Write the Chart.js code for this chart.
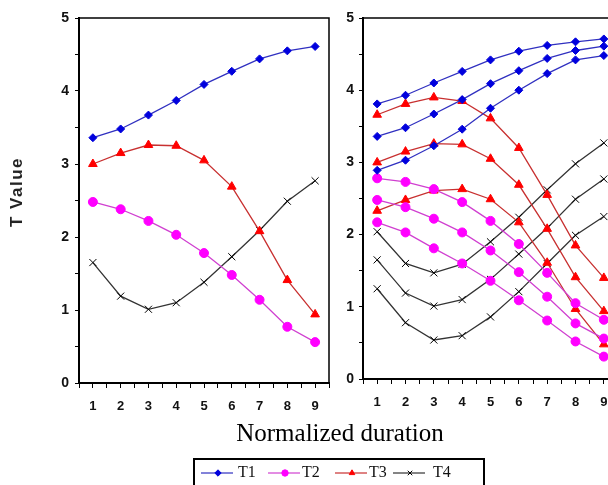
<!DOCTYPE html>
<html>
<head>
<meta charset="utf-8">
<script src="https://cdn.jsdelivr.net/npm/chart.js@4"></script>
<style>
  html, body { margin: 0; padding: 0; background: #fff; }
  body { width: 608px; height: 485px; overflow: hidden; position: relative; }
  canvas { position: absolute; top: 0; }
  #leftChart { left: 0; }
  #rightChart { left: 340px; }
  .ytitle {
    position: absolute; left: 17px; top: 192px;
    transform: translate(-50%, -50%) rotate(-90deg);
    font: bold 17px "Liberation Sans", Arial, sans-serif;
    letter-spacing: 1.5px; white-space: nowrap; color: #222;
  }
  .xtitle {
    position: absolute; left: 340px; top: 433px;
    transform: translate(-50%, -50%);
    font: 25px "Liberation Serif", "Times New Roman", serif;
    white-space: nowrap; color: #000;
  }
  .legend {
    position: absolute; left: 193px; top: 458px; width: 292px; height: 40px;
    border: 2px solid #000; box-sizing: border-box;
  }
  .legend canvas { position: absolute; top: 5px; }
  .legend span { position: absolute; top: 3px; font: 16px "Liberation Serif", serif; color: #111; }
</style>
</head>
<body>
<canvas id="leftChart" width="340" height="420"></canvas>
<canvas id="rightChart" width="290" height="420"></canvas>
<div class="ytitle">T Value</div>
<div class="xtitle">Normalized duration</div>
<div class="legend" id="legend"></div>
<script>
const durations = [1, 2, 3, 4, 5, 6, 7, 8, 9];
const yTicks = [0, 1, 2, 3, 4, 5];

// left panel
const t1 = [3.36, 3.48, 3.67, 3.87, 4.09, 4.27, 4.44, 4.55, 4.61];
const t2 = [2.48, 2.38, 2.22, 2.03, 1.78, 1.48, 1.14, 0.77, 0.56];
const t3 = [3.00, 3.15, 3.26, 3.25, 3.05, 2.69, 2.08, 1.41, 0.94];
const t4 = [1.65, 1.19, 1.01, 1.10, 1.38, 1.73, 2.09, 2.49, 2.77];

// right panel: upper / lower curves around each left series
const t1Upper = [3.81, 3.93, 4.10, 4.26, 4.42, 4.54, 4.62, 4.67, 4.71];
const t1Lower = [2.89, 3.03, 3.23, 3.46, 3.75, 4.00, 4.23, 4.42, 4.48];
const t2Upper = [2.78, 2.73, 2.63, 2.45, 2.19, 1.87, 1.47, 1.05, 0.82];
const t2Lower = [2.17, 2.03, 1.81, 1.60, 1.36, 1.09, 0.81, 0.52, 0.31];
const t3Upper = [3.66, 3.81, 3.90, 3.85, 3.61, 3.20, 2.55, 1.85, 1.40];
const t3Lower = [2.33, 2.48, 2.61, 2.63, 2.49, 2.17, 1.61, 0.97, 0.48];
const t4Upper = [2.04, 1.60, 1.47, 1.59, 1.90, 2.24, 2.62, 2.98, 3.27];
const t4Lower = [1.25, 0.78, 0.54, 0.60, 0.86, 1.21, 1.60, 1.99, 2.25];

const seriesNames = ["T1", "T2", "T3", "T4"];
const styles = {
  T1: { line: "#3030c0", fill: "#0000dd", point: "rectRot", r: 4 },
  T2: { line: "#d040d0", fill: "#ff00ff", point: "circle", r: 4.5 },
  T3: { line: "#c83030", fill: "#ff0000", point: "triangle", r: 5 },
  T4: { line: "#333333", fill: "#000000", point: "crossRot", r: 5 },
};

function ds(name, values) {
  const s = styles[name];
  return {
    label: name,
    data: values.map((v, i) => ({ x: durations[i], y: v })),
    borderColor: s.line,
    borderWidth: 1.3,
    pointStyle: s.point,
    pointRadius: s.r,
    pointBackgroundColor: s.fill,
    pointBorderColor: s.point === "crossRot" ? "#000" : s.fill,
    pointBorderWidth: 1,
    tension: 0,
    fill: false,
  };
}

// top / right frame lines around the plot
const framePlugin = {
  id: "frame",
  afterDraw(chart, args, opts) {
    const { ctx, chartArea: a } = chart;
    ctx.save();
    ctx.strokeStyle = "#000";
    ctx.lineWidth = 1.5;
    ctx.beginPath();
    ctx.moveTo(a.left, a.top);
    ctx.lineTo(a.right, a.top);
    if (opts.right) ctx.lineTo(a.right, a.bottom);
    ctx.stroke();
    ctx.restore();
  },
};

function makeChart(id, datasets, cfg) {
  return new Chart(document.getElementById(id), {
    type: "line",
    data: { datasets },
    plugins: [framePlugin],
    options: {
      responsive: false,
      animation: false,
      layout: { padding: { top: 18, right: cfg.padRight, left: 0, bottom: 0 } },
      plugins: {
        legend: { display: false },
        tooltip: { enabled: false },
        frame: { right: cfg.frameRight },
      },
      scales: {
        x: {
          type: "linear",
          min: 0.5,
          max: 9.5,
          afterFit: s => { s.height = cfg.xHeight; },
          afterBuildTicks: s => {
            const t = [];
            for (let v = 0.5; v <= 9.5; v += 0.5) t.push({ value: v });
            s.ticks = t;
          },
          ticks: {
            autoSkip: false,
            maxRotation: 0,
            padding: cfg.xPad,
            color: "#111",
            font: { family: "Liberation Sans", size: 13, weight: "bold" },
            callback: v => (durations.includes(v) ? String(v) : ""),
          },
          grid: { drawOnChartArea: false, drawTicks: true, tickLength: 5, color: "#000", lineWidth: 1 },
          border: { display: true, color: "#000", width: 2 },
        },
        y: {
          min: 0,
          max: 5,
          afterFit: s => { s.width = cfg.yWidth; },
          afterBuildTicks: s => {
            const t = [];
            for (let v = 0; v <= 5; v += 0.5) t.push({ value: v });
            s.ticks = t;
          },
          ticks: {
            padding: cfg.yPad,
            color: "#111",
            font: { family: "Liberation Sans", size: 14, weight: "bold" },
            callback: v => (yTicks.includes(v) ? String(v) : ""),
          },
          grid: { drawOnChartArea: false, drawTicks: true, tickLength: 4, color: "#000", lineWidth: 1 },
          border: { display: true, color: "#000", width: 2 },
        },
      },
    },
  });
}

makeChart("leftChart", [ds("T1", t1), ds("T2", t2), ds("T3", t3), ds("T4", t4)],
  { padRight: 3, xHeight: 37, yWidth: 79, xPad: 11, yPad: 6, frameRight: true });

makeChart("rightChart", [
  ds("T1", t1Upper), ds("T1", t1), ds("T1", t1Lower),
  ds("T2", t2Upper), ds("T2", t2), ds("T2", t2Lower),
  ds("T3", t3Upper), ds("T3", t3), ds("T3", t3Lower),
  ds("T4", t4Upper), ds("T4", t4), ds("T4", t4Lower),
], { padRight: 12, xHeight: 41, yWidth: 23, xPad: 11, yPad: 5, frameRight: false });

// legend row under the plots: sample line + marker, then the name
const legend = document.getElementById("legend");
const lineX = [6, 73, 140, 198];
const textX = [43, 107, 174, 238];
seriesNames.forEach((name, i) => {
  const s = styles[name];
  const c = document.createElement("canvas");
  c.width = 32; c.height = 16;
  c.style.left = lineX[i] + "px";
  const g = c.getContext("2d");
  g.strokeStyle = s.line; g.lineWidth = 1.2;
  g.beginPath(); g.moveTo(0, 8); g.lineTo(c.width, 8); g.stroke();
  g.fillStyle = s.fill;
  g.strokeStyle = s.point === "crossRot" ? "#000" : s.fill;
  g.lineWidth = 1;
  Chart.helpers.drawPoint(g, { pointStyle: s.point, radius: 3.2, rotation: 0, borderWidth: 1 }, 17, 8);
  legend.appendChild(c);
  const label = document.createElement("span");
  label.textContent = name;
  label.style.left = textX[i] + "px";
  legend.appendChild(label);
});
</script>
</body>
</html>
